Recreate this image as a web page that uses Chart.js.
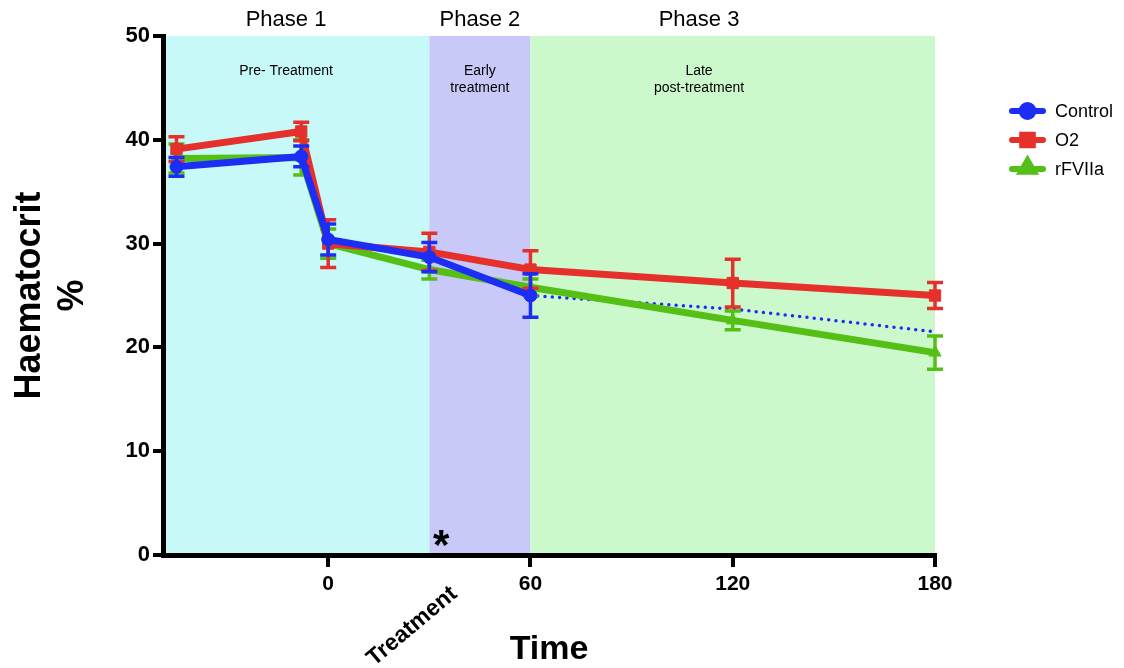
<!DOCTYPE html>
<html>
<head>
<meta charset="utf-8">
<script src="https://cdn.jsdelivr.net/npm/chart.js@4.4.1/dist/chart.umd.min.js"></script>
<style>
  html, body { margin: 0; padding: 0; background: #fff; }
  #wrap { width: 1124px; height: 668px; }
</style>
</head>
<body>
<div id="wrap"><canvas id="hctChart" width="1124" height="668"></canvas></div>
<script>
// time points (minutes) and group means / error bars
const timePoints = [-45, -8, 0, 30, 60, 120, 180];
const controlValues = [37.4, 38.4, 30.4, 28.7, 25.0];
const controlErrors = [0.9, 1.0, 1.5, 1.4, 2.1];
const controlTrendTimes = [60, 120, 180];
const controlTrendValues = [25.0, 23.7, 21.5];
const o2Values = [39.1, 40.8, 30.0, 29.2, 27.5, 26.2, 25.0];
const o2Errors = [1.2, 0.9, 2.3, 1.8, 1.8, 2.3, 1.25];
const rfValues = [38.2, 38.3, 30.0, 27.5, 25.8, 22.6, 19.5];
const rfErrors = [1.4, 1.7, 1.4, 0.9, 0.8, 0.9, 1.6];

const xTickValues = [0, 60, 120, 180];
const phaseNames = ["Phase 1", "Phase 2", "Phase 3"];
const phaseStart = [-49, 30, 60];
const phaseEnd = [30, 60, 180];
const phaseLabelAt = [-12.5, 45, 110];
const phaseNotes = [["Pre- Treatment"], ["Early", "treatment"], ["Late", "post-treatment"]];
const phaseColors = ["#c8f9f9", "#c9c9f9", "#cbf9cb"];

const BLUE = "#1c2ef5", RED = "#e5302b", GREEN = "#55bf15";
const FONT = "'Liberation Sans', Arial, Helvetica, sans-serif";

const toXY = (xs, ys) => ys.map((y, i) => ({ x: xs[i], y: y }));

// phase backgrounds behind everything
const phaseBands = {
  id: "phaseBands",
  beforeDraw(chart) {
    const { ctx, chartArea, scales } = chart;
    ctx.save();
    phaseStart.forEach((s, i) => {
      const x1 = Math.max(scales.x.getPixelForValue(s), chartArea.left);
      const x2 = scales.x.getPixelForValue(phaseEnd[i]);
      ctx.fillStyle = phaseColors[i];
      ctx.fillRect(x1, chartArea.top, x2 - x1, chartArea.bottom - chartArea.top);
    });
    ctx.restore();
  },
  afterDraw(chart) {
    const { ctx, chartArea, scales } = chart;
    ctx.save();
    ctx.fillStyle = "#000";
    ctx.textAlign = "center";
    ctx.textBaseline = "middle";
    phaseNames.forEach((name, i) => {
      const x = scales.x.getPixelForValue(phaseLabelAt[i]);
      ctx.font = "22px " + FONT;
      ctx.fillText(name, x, 20);
      ctx.font = "14px " + FONT;
      phaseNotes[i].forEach((line, j) => ctx.fillText(line, x, 71 + j * 17));
    });
    // treatment marker on the x axis
    const tx = scales.x.getPixelForValue(30);
    ctx.font = "bold 42px " + FONT;
    ctx.fillText("*", scales.x.getPixelForValue(33.5), chartArea.bottom - 8);
    ctx.save();
    ctx.translate(tx + 25, chartArea.bottom + 36);
    ctx.rotate(-40 * Math.PI / 180);
    ctx.textAlign = "right";
    ctx.font = "bold 23px " + FONT;
    ctx.fillText("Treatment", 0, 0);
    ctx.restore();
    ctx.restore();
  }
};

// vertical error bars, drawn with each dataset so stacking matches
const errorBars = {
  id: "errorBars",
  beforeDatasetDraw(chart, args) {
    const ds = chart.data.datasets[args.index];
    if (!ds.errors) return;
    const { ctx, scales } = chart;
    const meta = chart.getDatasetMeta(args.index);
    ctx.save();
    ctx.strokeStyle = ds.borderColor;
    ctx.lineWidth = 3.5;
    meta.data.forEach((pt, i) => {
      const v = ds.data[i].y, e = ds.errors[i];
      const yTop = scales.y.getPixelForValue(v + e);
      const yBot = scales.y.getPixelForValue(v - e);
      ctx.beginPath();
      ctx.moveTo(pt.x, yTop); ctx.lineTo(pt.x, yBot);
      ctx.moveTo(pt.x - 8, yTop); ctx.lineTo(pt.x + 8, yTop);
      ctx.moveTo(pt.x - 8, yBot); ctx.lineTo(pt.x + 8, yBot);
      ctx.stroke();
    });
    ctx.restore();
  }
};

// legend on the right: line with marker, like the original
const sideLegend = {
  id: "sideLegend",
  afterDraw(chart) {
    const { ctx } = chart;
    ctx.save();
    let y = 111;
    chart.data.datasets.forEach(ds => {
      if (ds.noLegend) return;
      ctx.strokeStyle = ds.borderColor;
      ctx.lineWidth = 6;
      ctx.lineCap = "round";
      ctx.beginPath();
      ctx.moveTo(1012, y); ctx.lineTo(1043, y);
      ctx.stroke();
      ctx.fillStyle = ds.borderColor;
      ctx.strokeStyle = ds.borderColor;
      Chart.helpers.drawPoint(ctx, {
        pointStyle: ds.pointStyle, radius: ds.legendRadius, rotation: 0, borderWidth: 1
      }, 1027.5, ds.pointStyle === "triangle" ? y - 1 : y);
      ctx.fillStyle = "#000";
      ctx.font = "18px " + FONT;
      ctx.textAlign = "left";
      ctx.textBaseline = "middle";
      ctx.fillText(ds.label, 1055, y + 1);
      y += 29;
    });
    ctx.restore();
  }
};

const lineDefaults = { borderWidth: 7, fill: false, tension: 0, clip: false, pointBorderWidth: 1 };

new Chart(document.getElementById("hctChart"), {
  type: "line",
  data: {
    datasets: [
      Object.assign({}, lineDefaults, {
        label: "Control", data: toXY(timePoints, controlValues), errors: controlErrors,
        borderColor: BLUE, backgroundColor: BLUE, pointBackgroundColor: BLUE, pointBorderColor: BLUE,
        pointStyle: "circle", pointRadius: 6.5, legendRadius: 6
      }),
      Object.assign({}, lineDefaults, {
        label: "O2", data: toXY(timePoints, o2Values), errors: o2Errors,
        borderColor: RED, backgroundColor: RED, pointBackgroundColor: RED, pointBorderColor: RED,
        pointStyle: "rect", pointRadius: 8, legendRadius: 7.5
      }),
      Object.assign({}, lineDefaults, {
        label: "rFVIIa", data: toXY(timePoints, rfValues), errors: rfErrors,
        borderColor: GREEN, backgroundColor: GREEN, pointBackgroundColor: GREEN, pointBorderColor: GREEN,
        pointStyle: "triangle", pointRadius: 7, legendRadius: 7.5
      }),
      {
        label: "Control trend", noLegend: true, data: toXY(controlTrendTimes, controlTrendValues),
        borderColor: BLUE, borderWidth: 3.5, borderDash: [0, 7.3], borderCapStyle: "round",
        pointRadius: 0, fill: false, clip: false, order: 5
      }
    ]
  },
  options: {
    responsive: false,
    animation: false,
    layout: { padding: { top: 36, right: 189, bottom: 0, left: 0 } },
    plugins: { legend: { display: false }, tooltip: { enabled: false } },
    scales: {
      x: {
        type: "linear", min: -49, max: 180,
        afterBuildTicks: s => { s.ticks = xTickValues.map(v => ({ value: v })); },
        afterFit: s => { s.height = 113; },
        ticks: { color: "#000", padding: 5, maxRotation: 0, autoSkip: false,
                 font: { family: FONT, weight: "bold", size: 21 } },
        grid: { drawOnChartArea: false, drawTicks: true, tickLength: 12, color: "#000", lineWidth: 4 },
        border: { color: "#000", width: 5 },
        title: { display: true, text: "Time", color: "#000", padding: 0,
                 font: { family: FONT, weight: "bold", size: 34, lineHeight: 1.1 } }
      },
      y: {
        min: 0, max: 50,
        afterFit: s => { s.width = 163; },
        ticks: { stepSize: 10, color: "#000", padding: 3,
                 font: { family: FONT, weight: "bold", size: 22 } },
        grid: { drawOnChartArea: false, drawTicks: true, tickLength: 10, color: "#000", lineWidth: 4 },
        border: { color: "#000", width: 5 },
        title: { display: true, text: ["Haematocrit", "%"], color: "#000", padding: { top: 8, bottom: 0 },
                 font: { family: FONT, weight: "bold", size: 36, lineHeight: 1.2 } }
      }
    }
  },
  plugins: [phaseBands, errorBars, sideLegend]
});
</script>
</body>
</html>
